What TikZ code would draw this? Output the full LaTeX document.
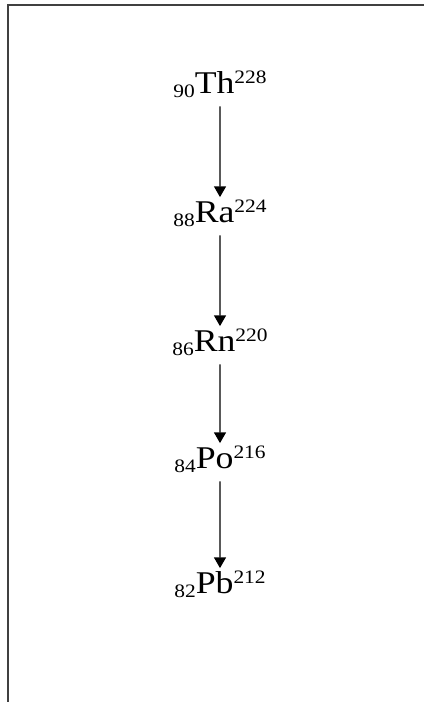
\documentclass[tikz,border=0pt]{standalone}
\usepackage{fontspec}
\setmainfont{Liberation Serif}
\usepackage{tikz}
\usetikzlibrary{arrows.meta}

% isotope label: Z below left, A above right
\newcommand{\nuclide}[3]{\raisebox{-2.8pt}{\fontsize{13.5}{13.5}\selectfont #1}#2\raisebox{7.8pt}{\fontsize{13.5}{13.5}\selectfont #3}}

\begin{document}
\begin{tikzpicture}[
        nuclide/.style={black, inner sep=0pt, anchor=base, text height=0.64cm, text depth=0.3cm,
                        font=\fontsize{22.5}{22.5}\selectfont, xscale=1.13, transform shape},
        decay/.style={black, line width=1pt, -{Triangle[length=0.27cm, width=0.3cm]}}]
        \useasboundingbox (0,0) rectangle (10.6,17.55);
        \draw[black!75, line width=0.04cm] (0.2,0) -- (0.2,17.425) -- (10.6,17.425);

        \node[nuclide] (th) at (5.5,15.2) {\nuclide{90}{Th}{228}};
        \node[nuclide] (ra) at (5.5,11.975) {\nuclide{88}{Ra}{224}};
        \node[nuclide] (rn) at (5.5,8.75) {\nuclide{86}{Rn}{220}};
        \node[nuclide] (po) at (5.5,5.825) {\nuclide{84}{Po}{216}};
        \node[nuclide] (pb) at (5.5,2.7) {\nuclide{82}{Pb}{212}};

        \draw[decay] (th) -- (ra);
        \draw[decay] (ra) -- (rn);
        \draw[decay] (rn) -- (po);
        \draw[decay] (po) -- (pb);
      \end{tikzpicture}
\end{document}
